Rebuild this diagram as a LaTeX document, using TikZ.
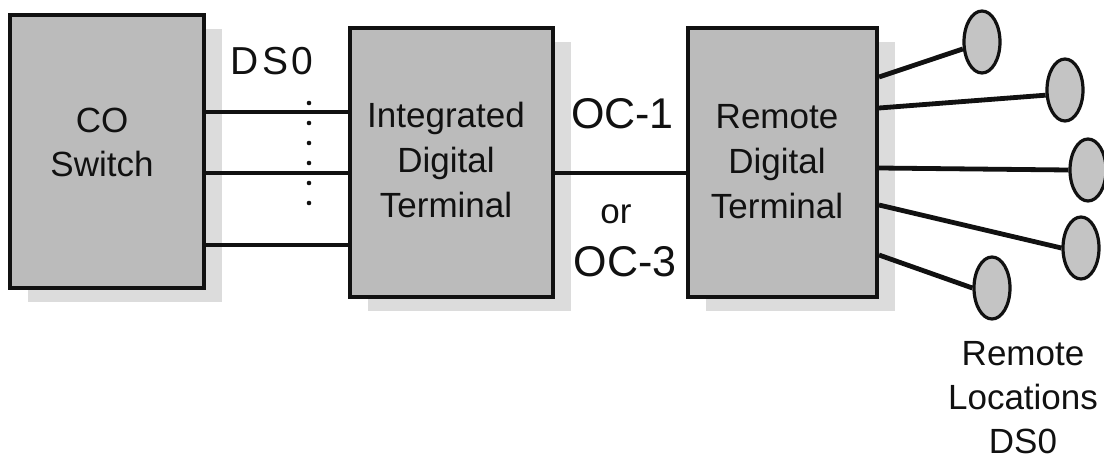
\documentclass[tikz,border=0pt]{standalone}
\usepackage{fontspec}
\setmainfont{Liberation Sans}
\usetikzlibrary{shapes.geometric,shadows}
\definecolor{boxfill}{HTML}{BBBBBB}
\definecolor{boxshade}{HTML}{DCDCDC}
\definecolor{sitefill}{HTML}{C4C4C4}
\definecolor{ink}{HTML}{111111}

\begin{document}
\begin{tikzpicture}[x=0.5pt,y=-0.5pt,
  unitbox/.style={draw=ink, line width=2pt, fill=boxfill, inner sep=0pt,
    general shadow={fill=boxshade, shadow xshift=9pt, shadow yshift=-7pt}},
  boxtext/.style={align=center, font=\fontsize{17.5}{22.5}\selectfont, text=ink, inner sep=0pt},
  ratelabel/.style={font=\fontsize{21.5}{24}\selectfont, text=ink, inner sep=0pt},
  trunk/.style={draw=ink, line width=2pt},
  spoke/.style={draw=ink, line width=2.4pt},
  site/.style={ellipse, draw=ink, line width=1.6pt, fill=sitefill,
    minimum width=18pt, minimum height=31pt, inner sep=0pt}
]
\useasboundingbox (0,0) rectangle (1104,460);

% terminal boxes
\node[unitbox, minimum width=97pt, minimum height=136.5pt] (co) at (107,151.5) {};
\node[boxtext, font=\fontsize{17.5}{22}\selectfont] (colbl) at (102,142) {CO\\Switch};
\node[unitbox, minimum width=101.5pt, minimum height=134.5pt] (idt) at (451.5,162.5) {};
\node[boxtext] (idtlbl) at (446,160) {Integrated\\Digital\\Terminal};
\node[unitbox, minimum width=94.5pt, minimum height=134.5pt] (rdt) at (782.5,162.5) {};
\node[boxtext] (rdtlbl) at (777,162) {Remote\\Digital\\Terminal};

% DS0 trunks between the switch and the IDT
\draw[trunk] (co.east |- 0,112) -- (idt.west |- 0,112);
\draw[trunk] (co.east |- 0,173) -- (idt.west |- 0,173);
\draw[trunk] (co.east |- 0,245) -- (idt.west |- 0,245);
\coordinate (dtop) at (309,103);
\coordinate (dbot) at (309,223);
\draw[ink, line width=2.3pt, line cap=round, dash pattern=on 0pt off 10pt] (dtop) -- (dbot);
\node[ratelabel, font=\fontsize{19.5}{24}\selectfont\addfontfeature{LetterSpace=8}] (ds) at (272,61) {DS0};

% optical link
\draw[trunk] (idt.east |- 0,173) -- (rdt.west |- 0,173);
\node[ratelabel] (oc1) at (622.5,114) {OC-1};
\node[ratelabel, font=\fontsize{17.5}{22}\selectfont] (or) at (616,214) {or};
\node[ratelabel] (oc3) at (625,262) {OC-3};

% remote locations
\node[site] (s1) at (982,42) {};
\node[site] (s2) at (1065,90) {};
\node[site] (s3) at (1088,170) {};
\node[site] (s4) at (1081,248) {};
\node[site] (s5) at (992,288) {};
\draw[spoke] (rdt.east |- 0,77) -- (s1.200);
\draw[spoke] (rdt.east |- 0,108) -- (s2.195);
\draw[spoke] (rdt.east |- 0,168) -- (s3.west);
\draw[spoke] (rdt.east |- 0,205) -- (s4.west);
\draw[spoke] (rdt.east |- 0,255) -- (s5.west);
\node[boxtext, font=\fontsize{17.5}{22}\selectfont] (sitelbl) at (1023,398) {Remote\\Locations\\DS0};
\end{tikzpicture}
\end{document}
